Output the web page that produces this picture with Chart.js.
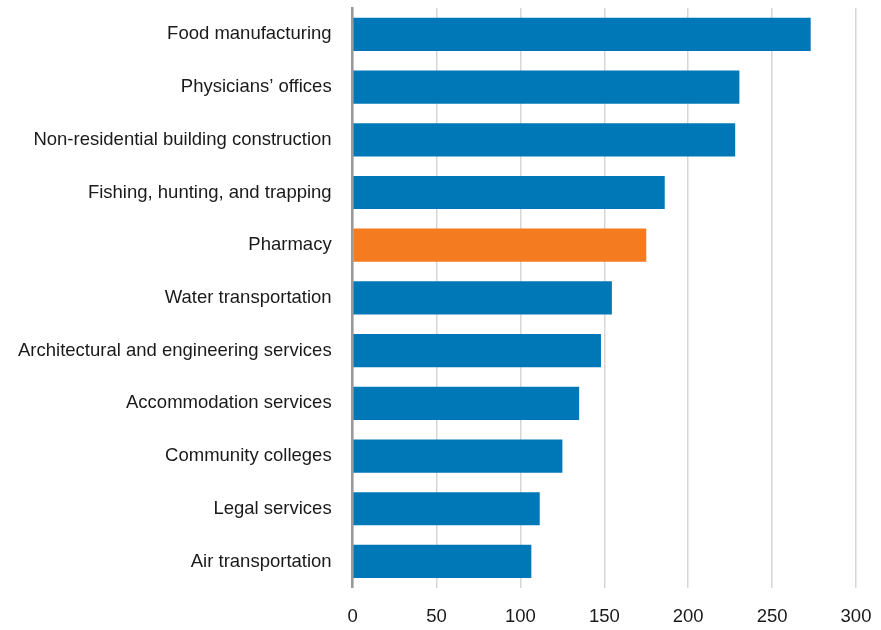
<!DOCTYPE html>
<html>
<head>
<meta charset="utf-8">
<script src="https://cdn.jsdelivr.net/npm/chart.js@4"></script>
<style>
  html, body { margin: 0; padding: 0; background: #fff; }
  canvas { display: block; }
</style>
</head>
<body>
<canvas id="chart" width="881" height="630"></canvas>
<script>
// categories and values
const industries = [
  'Food manufacturing',
  'Physicians\u2019 offices',
  'Non-residential building construction',
  'Fishing, hunting, and trapping',
  'Pharmacy',
  'Water transportation',
  'Architectural and engineering services',
  'Accommodation services',
  'Community colleges',
  'Legal services',
  'Air transportation'
];
const values = [273, 230.5, 228, 186, 175, 154.5, 148, 135, 125, 111.5, 106.5];
const xTicks = [0, 50, 100, 150, 200, 250, 300];

const BLUE = '#0077b6';
const ORANGE = '#f47b20';
const colors = industries.map(n => n === 'Pharmacy' ? ORANGE : BLUE);

Chart.defaults.font.family = '"Liberation Sans", Arial, sans-serif';
Chart.defaults.color = '#1a1a1a';

new Chart(document.getElementById('chart').getContext('2d'), {
  type: 'bar',
  data: {
    labels: industries,
    datasets: [{
      data: values,
      backgroundColor: colors,
      borderWidth: 0,
      categoryPercentage: 1,
      barPercentage: 0.63
    }]
  },
  options: {
    indexAxis: 'y',
    responsive: false,
    animation: false,
    layout: { padding: { top: 8, right: 0, left: -3, bottom: -16 } },
    plugins: { legend: { display: false }, tooltip: { enabled: false } },
    scales: {
      x: {
        min: 0, max: 300,
        afterBuildTicks: axis => { axis.ticks = xTicks.map(v => ({ value: v })); },
        afterFit: s => { s.paddingRight = 25; s.paddingLeft = 0; },
        grid: { color: '#d6d6d6', lineWidth: 1.5, drawTicks: false },
        border: { display: false },
        ticks: { font: { size: 18.5 }, padding: 18, color: '#1a1a1a' }
      },
      y: {
        afterFit: s => { s.paddingTop = 0; s.paddingBottom = 0; },
        grid: { display: false, drawTicks: false },
        border: { display: true, color: '#999999', width: 2.5 },
        ticks: { font: { size: 18.5 }, padding: 21, color: '#1a1a1a' }
      }
    }
  }
});
</script>
</body>
</html>
